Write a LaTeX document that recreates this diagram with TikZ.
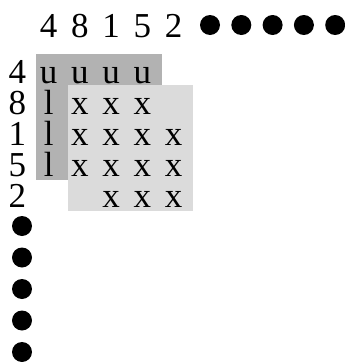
\documentclass[tikz,border=0pt]{standalone}
\usepackage{fontspec}
\setmainfont{Liberation Serif}
\colorlet{ushade}{gray!60}
\colorlet{xshade}{gray!28}
\begin{document}
\begin{tikzpicture}[x=1pt,y=-1pt,font=\fontsize{35}{35}\selectfont,
    every node/.style={inner sep=0pt},
    dot/.style={circle,fill=black,inner sep=0pt,minimum size=20pt}]
  \useasboundingbox (0,0) rectangle (345,362);
  \fill[ushade] (36,54) rectangle (162,180);
  \fill[xshade] (68,85) rectangle (193,211);

  \foreach \lab [count=\k] in {4,8,1,5,2} {
    \node[anchor=base] (h\k) at ({17.5+31.2*\k},37.5) {\lab};
    \node[anchor=base] (r\k) at (17.5,{83+31.2*(\k-1)}) {\lab};
  }
  \foreach \k in {1,...,4}
    \node[anchor=base] (u\k) at ({17.5+31.2*\k},83) {u};
  \foreach \r in {2,3,4}
    \node[anchor=base] (l\r) at (48.7,{83+31.2*(\r-1)}) {l};
  \foreach \r/\c in {2/2,2/3,2/4,3/2,3/3,3/4,3/5,4/2,4/3,4/4,4/5,5/3,5/4,5/5}
    \node[anchor=base] (x\r\c) at ({17.5+31.2*\c},{83+31.2*(\r-1)}) {x};

  \foreach \k in {0,...,4} {
    \node[dot] (dt\k) at ({210+31.3*\k},25) {};
    \node[dot] (dl\k) at (22,{226+31.5*\k}) {};
  }
\end{tikzpicture}
\end{document}
